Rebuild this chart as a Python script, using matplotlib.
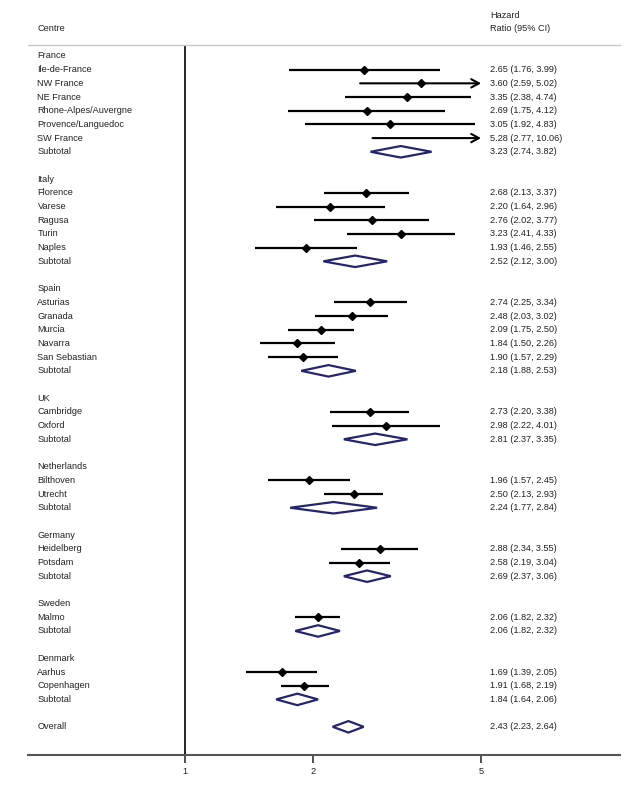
import matplotlib
matplotlib.use("Agg")
import matplotlib.pyplot as plt
from matplotlib.patches import Polygon
from matplotlib.transforms import blended_transform_factory

plt.rcParams["font.family"] = ["Liberation Sans", "DejaVu Sans"]

countries = ["France", "Italy", "Spain", "UK", "Netherlands", "Germany", "Sweden", "Denmark"]

centres = [
    "Ile-de-France", "NW France", "NE France", "Rhone-Alpes/Auvergne", "Provence/Languedoc", "SW France",
    "Florence", "Varese", "Ragusa", "Turin", "Naples",
    "Asturias", "Granada", "Murcia", "Navarra", "San Sebastian",
    "Cambridge", "Oxford",
    "Bilthoven", "Utrecht",
    "Heidelberg", "Potsdam",
    "Malmo",
    "Aarhus", "Copenhagen",
]
centre_country = (
    ["France"] * 6 + ["Italy"] * 5 + ["Spain"] * 5 + ["UK"] * 2
    + ["Netherlands"] * 2 + ["Germany"] * 2 + ["Sweden"] + ["Denmark"] * 2
)
hr = [2.65, 3.60, 3.35, 2.69, 3.05, 5.28,
      2.68, 2.20, 2.76, 3.23, 1.93,
      2.74, 2.48, 2.09, 1.84, 1.90,
      2.73, 2.98,
      1.96, 2.50,
      2.88, 2.58,
      2.06,
      1.69, 1.91]
lo = [1.76, 2.59, 2.38, 1.75, 1.92, 2.77,
      2.13, 1.64, 2.02, 2.41, 1.46,
      2.25, 2.03, 1.75, 1.50, 1.57,
      2.20, 2.22,
      1.57, 2.13,
      2.34, 2.19,
      1.82,
      1.39, 1.68]
hi = [3.99, 5.02, 4.74, 4.12, 4.83, 10.06,
      3.37, 2.96, 3.77, 4.33, 2.55,
      3.34, 3.02, 2.50, 2.26, 2.29,
      3.38, 4.01,
      2.45, 2.93,
      3.55, 3.04,
      2.32,
      2.05, 2.19]

sub_hr = [3.23, 2.52, 2.18, 2.81, 2.24, 2.69, 2.06, 1.84]
sub_lo = [2.74, 2.12, 1.88, 2.37, 1.77, 2.37, 1.82, 1.64]
sub_hi = [3.82, 3.00, 2.53, 3.35, 2.84, 3.06, 2.32, 2.06]

overall = (2.43, 2.23, 2.64)

x_ticks = [1, 2, 5]
x_max_shown = 5.0

navy = "#25256e"
text_color = "#222222"


def fmt(h, l, u):
    return f"{h:.2f} ({l:.2f}, {u:.2f})"


def draw_diamond(ax, y, h, l, u):
    half = 0.42
    pts = [(l, y), (h, y - half), (u, y), (h, y + half)]
    ax.add_patch(Polygon(pts, closed=True, facecolor="white", edgecolor=navy, lw=1.6, zorder=3))


fig = plt.figure(figsize=(6.35, 8), dpi=100)
ax = fig.add_axes([28 / 635, 45 / 800, 592 / 635, 710 / 800])
ax.set_xscale("log")
ax.set_xlim(0.425, 10.65)
ax.set_ylim(51.06, -0.80)

tr = blended_transform_factory(ax.transAxes, ax.transData)
label_x = 0.016
value_x = 0.780
fs = 6.6

row = 0
for ci, country in enumerate(countries):
    ax.text(label_x, row, country, transform=tr, va="center", ha="left", fontsize=fs, color=text_color)
    row += 1
    for i, name in enumerate(centres):
        if centre_country[i] != country:
            continue
        ax.text(label_x, row, name, transform=tr, va="center", ha="left", fontsize=fs, color=text_color)
        ax.text(value_x, row, fmt(hr[i], lo[i], hi[i]), transform=tr, va="center", ha="left",
                fontsize=fs, color=text_color)
        if hi[i] > x_max_shown:
            ax.annotate("", xy=(x_max_shown, row), xytext=(lo[i], row),
                        arrowprops=dict(arrowstyle="->,head_length=0.55,head_width=0.3",
                                        lw=1.5, color="black", shrinkA=0, shrinkB=0))
        else:
            ax.plot([lo[i], hi[i]], [row, row], color="black", lw=1.6, solid_capstyle="butt")
        if hr[i] <= x_max_shown:
            ax.plot(hr[i], row, marker="D", ms=3.8, color="black", zorder=4)
        row += 1
    ax.text(label_x, row, "Subtotal", transform=tr, va="center", ha="left", fontsize=fs, color=text_color)
    ax.text(value_x, row, fmt(sub_hr[ci], sub_lo[ci], sub_hi[ci]), transform=tr, va="center",
            ha="left", fontsize=fs, color=text_color)
    draw_diamond(ax, row, sub_hr[ci], sub_lo[ci], sub_hi[ci])
    row += 2

ax.text(label_x, row, "Overall", transform=tr, va="center", ha="left", fontsize=fs, color=text_color)
ax.text(value_x, row, fmt(*overall), transform=tr, va="center", ha="left", fontsize=fs, color=text_color)
draw_diamond(ax, row, *overall)

# headers
ax.text(label_x, -2, "Centre", transform=tr, va="center", ha="left", fontsize=fs, color=text_color)
ax.text(value_x, -2.95, "Hazard", transform=tr, va="center", ha="left", fontsize=fs, color=text_color)
ax.text(value_x, -2, "Ratio (95% CI)", transform=tr, va="center", ha="left", fontsize=fs, color=text_color)

ax.axvline(1, color="black", lw=1.2, zorder=1)

for side in ["left", "right"]:
    ax.spines[side].set_visible(False)
ax.spines["top"].set_color("#c8c8c8")
ax.spines["top"].set_linewidth(1.0)
ax.spines["bottom"].set_color("#555555")
ax.spines["bottom"].set_linewidth(1.5)

ax.set_yticks([])
ax.set_xticks(x_ticks)
ax.set_xticklabels([str(t) for t in x_ticks])
ax.xaxis.set_minor_locator(matplotlib.ticker.NullLocator())
ax.tick_params(axis="x", length=6, width=1.2, color="#333333", labelsize=fs, labelcolor=text_color, pad=3)

fig.savefig("out.png", dpi=100)
